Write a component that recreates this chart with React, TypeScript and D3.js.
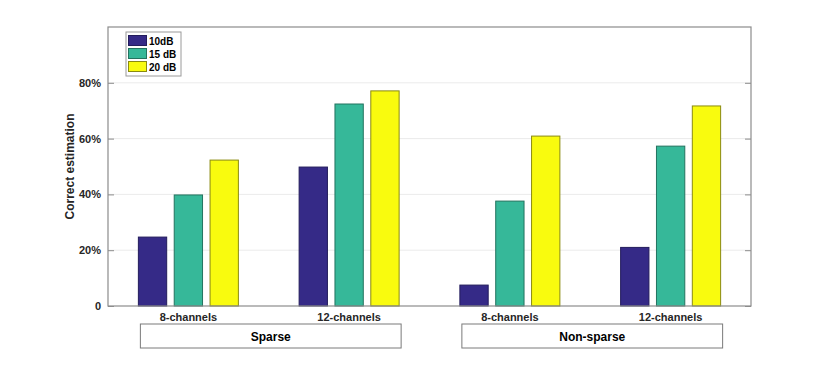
import * as d3 from "d3";
import { useEffect, useRef } from "react";

const categories = ["Sparse 8", "Sparse 12", "Non 8", "Non 12"];
const catLabels = ["8-channels", "12-channels", "8-channels", "12-channels"];
const series = ["10dB", "15 dB", "20 dB"];
const v10 = [0.247, 0.498, 0.075, 0.21];
const v15 = [0.398, 0.724, 0.376, 0.573];
const v20 = [0.523, 0.771, 0.609, 0.717];
const groups = [
  { name: "Sparse", from: 0, to: 1 },
  { name: "Non-sparse", from: 2, to: 3 },
];
const yTicks = [0, 0.2, 0.4, 0.6, 0.8];
const colors = ["#352a87", "#36b899", "#f9fb0e"];
const strokes = ["#231c5c", "#23735f", "#8a8a10"];

const App = () => {
  const ref = useRef<SVGSVGElement>(null);
  const width = 830, height = 365;
  const margin = { top: 27, right: 79, bottom: 59, left: 108 };

  useEffect(() => {
    const svg = d3.select(ref.current);
    svg.selectAll("*").remove();
    const font = "Liberation Sans, Arial, sans-serif";

    const x = d3.scaleBand().domain(categories).range([margin.left, width - margin.right]);
    const y = d3.scaleLinear().domain([0, 1]).range([height - margin.bottom, margin.top]);
    const inner = d3.scaleBand().domain(series).range([-50, 50]).paddingInner(0.21);

    // grid
    svg.append("g").selectAll("line").data(yTicks.slice(1)).enter().append("line")
      .attr("x1", margin.left).attr("x2", width - margin.right)
      .attr("y1", (d) => y(d)).attr("y2", (d) => y(d))
      .attr("stroke", "#ebebeb").attr("stroke-width", 1);

    const data = [v10, v15, v20];
    series.forEach((s, si) => {
      svg.append("g").selectAll("rect").data(data[si]).enter().append("rect")
        .attr("x", (_, i) => x(categories[i])! + x.bandwidth() / 2 + inner(s)!)
        .attr("width", inner.bandwidth())
        .attr("y", (d) => y(d))
        .attr("height", (d) => y(0) - y(d))
        .attr("fill", colors[si])
        .attr("stroke", strokes[si]).attr("stroke-width", 1);
    });

    // axes box
    const axisColor = "#8c8c8c";
    svg.append("rect")
      .attr("x", margin.left).attr("y", margin.top)
      .attr("width", width - margin.left - margin.right)
      .attr("height", height - margin.top - margin.bottom)
      .attr("fill", "none").attr("stroke", axisColor).attr("stroke-width", 1.2);

    const yAxis = svg.append("g").attr("transform", `translate(${margin.left},0)`)
      .call(d3.axisLeft(y).tickValues(yTicks).tickSize(-6)
        .tickFormat((d) => (+d === 0 ? "0" : d3.format(".0%")(+d))));
    yAxis.select(".domain").remove();
    yAxis.selectAll("line").attr("stroke", axisColor);
    yAxis.selectAll("text").attr("x", -7).attr("font-size", 11).attr("font-family", font)
      .attr("font-weight", "bold").attr("fill", "#262626");

    const yAxisR = svg.append("g").attr("transform", `translate(${width - margin.right},0)`)
      .call(d3.axisRight(y).tickValues(yTicks).tickSize(-6).tickFormat(() => ""));
    yAxisR.select(".domain").remove();
    yAxisR.selectAll("line").attr("stroke", axisColor);

    svg.append("text")
      .attr("transform", `translate(74,${(margin.top + height - margin.bottom) / 2}) rotate(-90)`)
      .attr("text-anchor", "middle")
      .attr("font-family", font).attr("font-size", 12).attr("font-weight", "bold")
      .attr("fill", "#262626").text("Correct estimation");

    // category labels
    svg.append("g").selectAll("text").data(categories).enter().append("text")
      .attr("x", (d) => x(d)! + x.bandwidth() / 2).attr("y", 321)
      .attr("text-anchor", "middle").attr("font-family", font).attr("font-size", 11)
      .attr("font-weight", "bold").attr("fill", "#262626").text((_, i) => catLabels[i]);

    // group boxes
    groups.forEach((g) => {
      const x0 = x(categories[g.from])! + x.bandwidth() / 2 - 48;
      const x1 = x(categories[g.to])! + x.bandwidth() / 2 + 52;
      svg.append("rect").attr("x", x0).attr("y", 324).attr("width", x1 - x0).attr("height", 24)
        .attr("fill", "white").attr("stroke", "#7a7a7a").attr("stroke-width", 1);
      svg.append("text").attr("x", (x0 + x1) / 2).attr("y", 340.5)
        .attr("text-anchor", "middle").attr("font-family", font).attr("font-size", 12)
        .attr("font-weight", "bold").attr("fill", "#000").text(g.name);
    });

    // legend
    const lg = svg.append("g");
    lg.append("rect").attr("x", 126).attr("y", 32).attr("width", 55).attr("height", 44)
      .attr("fill", "white").attr("stroke", "#9a9a9a").attr("stroke-width", 1);
    series.forEach((s, si) => {
      lg.append("rect").attr("x", 128.5).attr("y", 35.5 + si * 13).attr("width", 18).attr("height", 10)
        .attr("fill", colors[si]).attr("stroke", strokes[si]).attr("stroke-width", 1);
      lg.append("text").attr("x", 149).attr("y", 44.5 + si * 13)
        .attr("font-family", font).attr("font-size", 10).attr("font-weight", "bold")
        .attr("fill", "#000").text(s);
    });
  }, []);

  return <svg ref={ref} width={width} height={height} style={{ display: "block", margin: -8 }} />;
};

export default App;
